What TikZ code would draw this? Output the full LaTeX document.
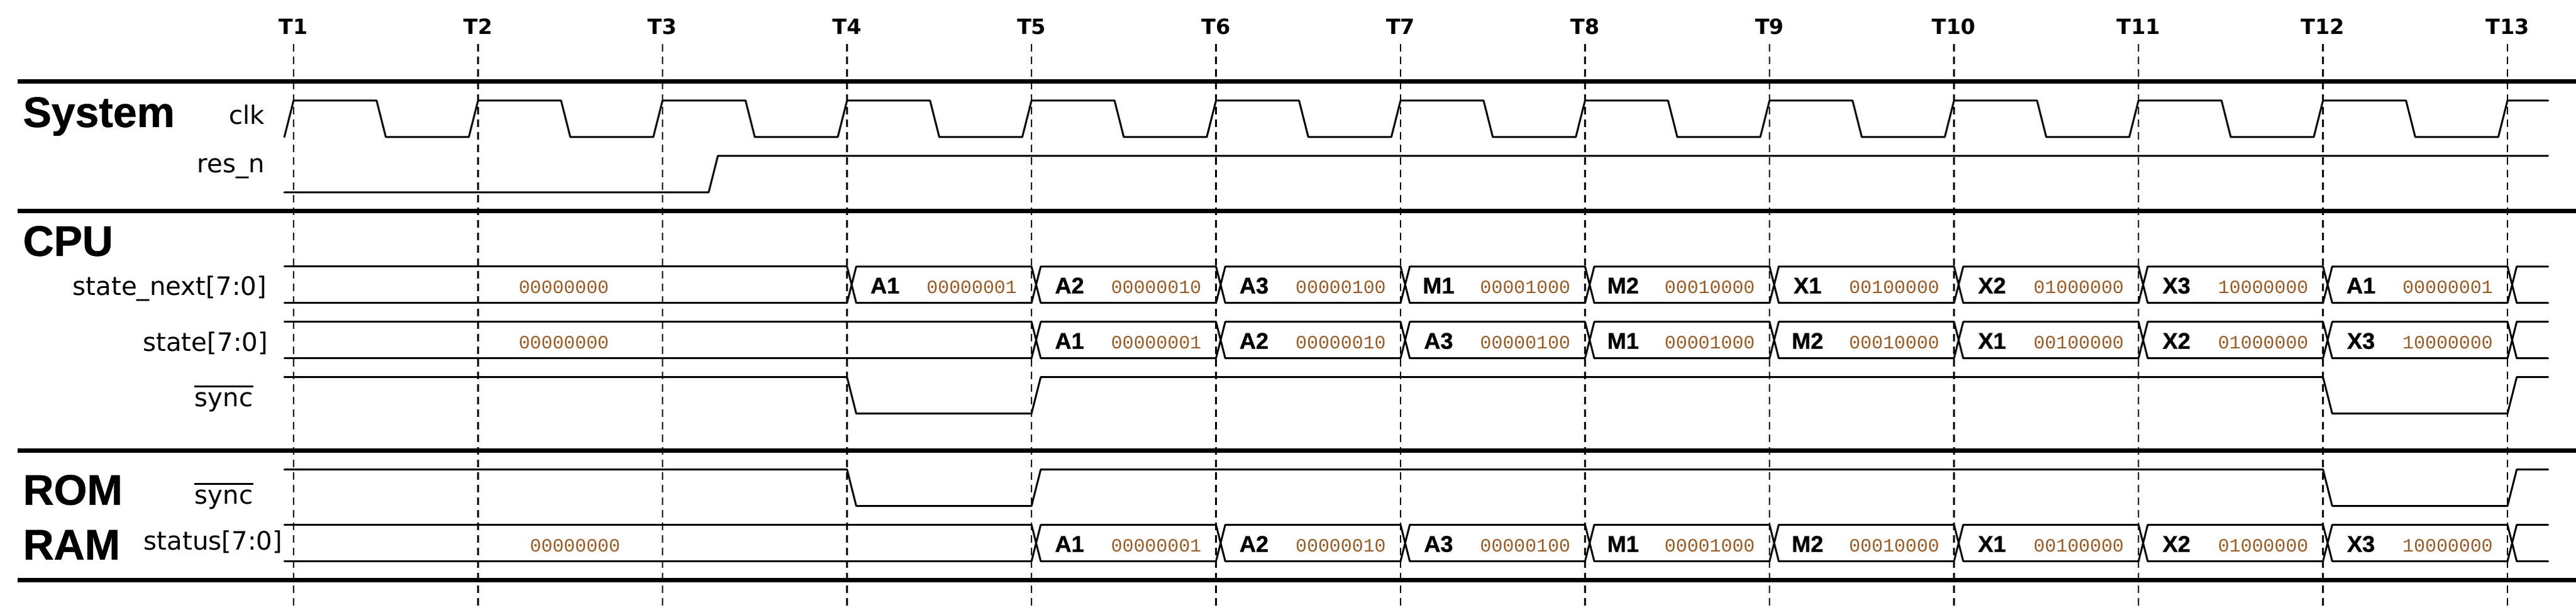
\documentclass[tikz,border=0pt]{standalone}
\usepackage{fontspec}
\setmainfont{DejaVu Sans}
\newfontfamily\headfont{Liberation Sans}[BoldFeatures={FakeBold=0.8}]
\newfontfamily\valfont{Liberation Mono}
\definecolor{valbrown}{RGB}{150,92,40}
\tikzset{
  sig/.style={line width=0.85pt, line cap=round, line join=round},
  sep/.style={line width=2pt},
  tmark/.style={line width=0.8pt, dash pattern=on 3.4pt off 2.3pt},
  tlabel/.style={font=\fontsize{9.5}{11}\selectfont\bfseries, inner sep=0pt, anchor=base},
  group/.style={font=\headfont\fontsize{19.3}{21}\selectfont\bfseries, inner sep=0pt, anchor=base west},
  signame/.style={font=\fontsize{11.5}{13}\selectfont, inner sep=0pt, anchor=base east},
  stname/.style={font=\headfont\fontsize{10.3}{12}\selectfont\bfseries, inner sep=0pt, anchor=base},
  stcode/.style={font=\valfont\fontsize{8.5}{10}\selectfont, text=valbrown, inner sep=0pt, anchor=base}
}
\begin{document}
\begin{tikzpicture}[x=2.935cm,y=-0.01cm]
\useasboundingbox (-1.5911,0) rectangle (12.3714,970);
% time marks
\foreach \i in {1,...,13} {
\draw[tmark] (\i-1,70) -- (\i-1,970);
\node[tlabel] (t\i) at (\i-1,55) {T\i};
}
\foreach \y in {130,336,717,923}
\draw[sep] (-1.4957,\y) -- (12.3714,\y);
% groups
\node[group] (system) at (-1.4685,202) {System};
\node[group] (cpu) at (-1.4685,407) {CPU};
\node[group] (rom) at (-1.4685,803) {ROM};
\node[group] (ram) at (-1.4685,890) {RAM};
% signal names
\node[signame] (clk) at (-0.1533,198) {clk};
\node[signame] (resn) at (-0.1533,275) {res\_n};
\node[signame] (statenext) at (-0.1431,470) {state\_next[7:0]};
\node[signame] (state) at (-0.1363,559) {state[7:0]};
\node[signame] (cpusync) at (-0.2181,647) {sync};
\node[signame] (romsync) at (-0.2181,802) {sync};
\node[signame] (status) at (-0.0579,875) {status[7:0]};
\foreach \s in {cpusync,romsync}
\draw[line width=0.95pt] ([yshift=9.2pt]\s.base west) -- ([yshift=9.2pt]\s.base east);
% clk
\draw[sig] (-0.05,218) -- (0,160) \foreach \k in {0,...,11} {
 -- (\k+0.45,160) -- (\k+0.5,218) -- (\k+0.95,218) -- (\k+1,160) } -- (12.22,160);
% res_n
\draw[sig] (-0.05,306) -- (2.25,306) -- (2.30,248) -- (12.22,248);
% sync lines
\foreach \h/\l in {600/658,747/805}
\draw[sig] (-0.05,\h) -- (3,\h) -- (3.05,\l) -- (4,\l) -- (4.05,\h) -- (11,\h)
 -- (11.05,\l) -- (12,\l) -- (12.05,\h) -- (12.22,\h);
% state_next[7:0]
\draw[sig] (-0.05,424) -- (3,424) (-0.05,482) -- (3,482);
\foreach \c [evaluate=\c as \e using {min(\c+1,12.22)}] in {3,...,12}
\draw[sig] (\c,424) -- (\c+0.05,482) -- (\e,482) (\c,482) -- (\c+0.05,424) -- (\e,424);
% state[7:0] and status[7:0]
\foreach \t/\b in {512/570,835/893} {
\draw[sig] (-0.05,\t) -- (4,\t) (-0.05,\b) -- (4,\b);
\foreach \c [evaluate=\c as \e using {min(\c+1,12.22)}] in {4,...,12}
\draw[sig] (\c,\t) -- (\c+0.05,\b) -- (\e,\b) (\c,\b) -- (\c+0.05,\t) -- (\e,\t);
}
% values
\node[stcode] (sn0) at (1.465,467) {00000000};
\node[stcode] (st0) at (1.465,555) {00000000};
\node[stcode] (ss0) at (1.526,878) {00000000};
\foreach \c/\n/\v in {3/A1/00000001,4/A2/00000010,5/A3/00000100,6/M1/00001000,
 7/M2/00010000,8/X1/00100000,9/X2/01000000,10/X3/10000000,11/A1/00000001} {
\node[stname] (sn\c) at (\c+0.206,467) {\n};
\node[stcode] (snv\c) at (\c+0.676,467) {\v};
}
\foreach \c/\n/\v in {4/A1/00000001,5/A2/00000010,6/A3/00000100,7/M1/00001000,
 8/M2/00010000,9/X1/00100000,10/X2/01000000,11/X3/10000000} {
\node[stname] (st\c) at (\c+0.206,555) {\n};
\node[stcode] (stv\c) at (\c+0.676,555) {\v};
\node[stname] (ss\c) at (\c+0.206,878) {\n};
\node[stcode] (ssv\c) at (\c+0.676,878) {\v};
}
\end{tikzpicture}
\end{document}
